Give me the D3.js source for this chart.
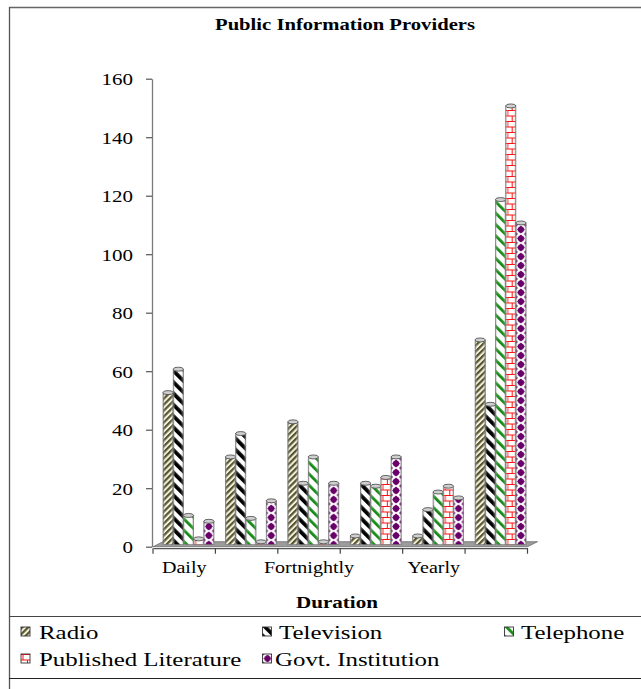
<!DOCTYPE html>
<html><head><meta charset="utf-8">
<script src="https://cdn.jsdelivr.net/npm/d3@7"></script>
<style>
body{margin:0;background:#fff}
svg{display:block}
text{font-family:"Liberation Serif","Times New Roman",Times,serif !important;fill:#000}
</style>
</head><body>
<svg id="c" width="641" height="689"></svg>
<script>
// ---- data ----
const categories = ["Daily","Weekly","Fortnightly","Monthly","Yearly","Occasionally"];
const shownCategoryLabels = ["Daily","Fortnightly","Yearly"];
const seriesNames = ["Radio","Television","Telephone","Published Literature","Govt. Institution"];
const radio = [52,30,42,3,3,70];
const television = [60,38,21,21,12,48];
const telephone = [10,9,30,20,18,118];
const publishedLiterature = [2,1,1,23,20,150];
const govtInstitution = [8,15,21,30,16,110];
const yTicks = [0,20,40,60,80,100,120,140,160];
const chartTitle = "Public Information Providers";
const xTitle = "Duration";

const seriesValues = [radio, television, telephone, publishedLiterature, govtInstitution];
const patternIds = ["pRadio","pTv","pTel","pPub","pGov"];
const serif = "'Liberation Serif','Times New Roman',Times,serif";

const svg = d3.select("#c");
const defs = svg.append("defs");

// ---- patterns ----
function stripes(id, bg, fg, period, fgW, angle){
  const p = defs.append("pattern").attr("id",id).attr("patternUnits","userSpaceOnUse")
    .attr("width",period).attr("height",period).attr("patternTransform",`rotate(${angle})`);
  p.append("rect").attr("width",period).attr("height",period).attr("fill",bg);
  p.append("rect").attr("width",fgW).attr("height",period).attr("fill",fg);
}
stripes("pRadio","#f2f1e4","#57542a",4.2,2.2,45);
stripes("pTv","#ffffff","#000000",8,3.8,-45);
stripes("pTel","#ffffff","#168a16",8,2.8,-45);
{
  const p = defs.append("pattern").attr("id","pPub").attr("patternUnits","userSpaceOnUse")
    .attr("width",9).attr("height",11);
  p.append("rect").attr("width",9).attr("height",11).attr("fill","#fff");
  p.append("path").attr("d","M0,0.5H9M0,6H9M2,0.5V6M6.5,6V11.5")
    .attr("stroke","#ff1010").attr("stroke-width",1).attr("fill","none");
}
{
  const p = defs.append("pattern").attr("id","pGov").attr("patternUnits","userSpaceOnUse")
    .attr("width",10).attr("height",9);
  p.append("rect").attr("width",10).attr("height",9).attr("fill","#fff");
  const dia = (cx,cy,r)=>`M${cx},${cy-r}L${cx+r},${cy}L${cx},${cy+r}L${cx-r},${cy}Z`;
  p.append("circle").attr("cx",5).attr("cy",4.5).attr("r",3.1).attr("fill","#690069");
  p.append("path").attr("d",[dia(5,4.5,4),dia(0,0,2),dia(10,0,2),dia(0,9,2),dia(10,9,2)].join(""))
    .attr("fill","#690069");
}
const g = defs.append("linearGradient").attr("id","cyl").attr("x1",0).attr("x2",1).attr("y1",0).attr("y2",0);
[[0,"#555",0.6],[0.22,"#fff",0],[0.75,"#fff",0],[1,"#555",0.6]].forEach(s=>
  g.append("stop").attr("offset",s[0]).attr("stop-color",s[1]).attr("stop-opacity",s[2]));

// ---- frame ----
svg.append("line").attr("x1",9).attr("x2",641).attr("y1",7.5).attr("y2",7.5).attr("stroke","#666").attr("stroke-width",1.3);
svg.append("line").attr("x1",9.5).attr("x2",9.5).attr("y1",7).attr("y2",689).attr("stroke","#555").attr("stroke-width",1.3);
svg.append("line").attr("x1",9).attr("x2",641).attr("y1",616.5).attr("y2",616.5).attr("stroke","#444").attr("stroke-width",1.2);
svg.append("line").attr("x1",9).attr("x2",641).attr("y1",678.5).attr("y2",678.5).attr("stroke","#222").attr("stroke-width",1.2);

// ---- scales ----
const y = d3.scaleLinear().domain([0,160]).range([546.7,78.7]);
const x0 = d3.scaleBand().domain(categories).range([153,527.5]).paddingInner(0).paddingOuter(0);
const x1 = d3.scaleBand().domain(seriesNames).range([10,61]).padding(0);
const lift = 2;

function stretchText(sel, sx){
  sel.each(function(){
    const t = d3.select(this);
    const x = +t.attr("x")||0, yy = +t.attr("y")||0;
    t.attr("transform",`translate(${x},${yy}) scale(${sx},1)`).attr("x",0).attr("y",0);
  });
}
function fitText(sel, target){
  sel.each(function(){
    const w = this.getComputedTextLength();
    stretchText(d3.select(this), target/w);
  });
}

// ---- title ----
svg.append("text").attr("x",345).attr("y",30).attr("text-anchor","middle").style("font-family",serif)
  .attr("font-weight","bold").attr("font-size",16).text(chartTitle).call(fitText,260);

// ---- y axis ----
const yAxisG = svg.append("g").attr("transform","translate(152,0)")
  .call(d3.axisLeft(y).tickValues(yTicks).tickSize(6).tickSizeOuter(0))
  .attr("font-family",serif);
yAxisG.select(".domain").attr("stroke","#7a7a7a").attr("stroke-width",1.3);
yAxisG.selectAll(".tick line").attr("stroke","#555").attr("stroke-width",1.2);
yAxisG.selectAll(".tick text").style("font-family",serif).attr("font-size",17.5)
  .attr("fill","#111").attr("dy","0.34em").attr("x",-19/1.2)
  .attr("transform","scale(1.2,1)");

// ---- floor ----
const fy = y(0);
const [fx0, fx1] = x0.range();
svg.append("path")
  .attr("d",`M${fx0},${fy}L${fx1},${fy}L${fx1+10},${fy-5}L${fx0+10},${fy-5}Z`)
  .attr("fill","#9c9c9c").attr("stroke","#6e6e6e").attr("stroke-width",0.8);

// ---- x axis ----
const xAxisG = svg.append("g").attr("transform",`translate(0,${fy+1.5})`)
  .call(d3.axisBottom(x0).tickSize(0).tickSizeOuter(0)
    .tickFormat(d => shownCategoryLabels.includes(d) ? d : ""))
  .attr("font-family",serif);
xAxisG.select(".domain").attr("stroke","#555").attr("stroke-width",1.2);
xAxisG.selectAll(".tick text").style("font-family",serif).attr("font-size",17)
  .attr("fill","#111").attr("dy",0).attr("y",25).attr("transform","scale(1.18,1)");
const bounds = categories.map(c=>x0(c)).concat([x0.range()[1]]);
xAxisG.selectAll(".bnd").data(bounds).join("line").attr("class","bnd")
  .attr("x1",d=>d).attr("x2",d=>d).attr("y1",0).attr("y2",5.5)
  .attr("stroke","#444").attr("stroke-width",1.2);

svg.append("text").attr("x",337).attr("y",608).attr("text-anchor","middle").style("font-family",serif)
  .attr("font-weight","bold").attr("font-size",17).text(xTitle).call(fitText,82);

// ---- bars ----
const barsG = svg.append("g");
categories.forEach((cat, ci) => {
  seriesNames.forEach((s, si) => {
    const v = seriesValues[si][ci];
    const bx = x0(cat) + x1(s);
    const bw = x1.bandwidth();
    const top = y(v) - lift, bottom = y(0) - lift;
    const bg = barsG.append("g").attr("transform",`translate(${bx},0)`);
    bg.append("rect").attr("x",0).attr("y",top).attr("width",bw).attr("height",Math.max(0,bottom-top))
      .attr("fill",`url(#${patternIds[si]})`);
    bg.append("rect").attr("x",0).attr("y",top).attr("width",bw).attr("height",Math.max(0,bottom-top))
      .attr("fill","url(#cyl)").attr("stroke","#7a7a7a").attr("stroke-width",0.7);
    bg.append("ellipse").attr("cx",bw/2).attr("cy",top).attr("rx",bw/2).attr("ry",2)
      .attr("fill","#cfcfcf").attr("stroke","#444").attr("stroke-width",0.8);
  });
});

// ---- legend ----
const legendPos = [
  {sx:21, tx:39, y:639},{sx:262.5, tx:279, y:639},{sx:504.5, tx:521, y:639},
  {sx:21, tx:39, y:666},{sx:262.5, tx:275, y:666}
];
seriesNames.forEach((s, si) => {
  const p = legendPos[si];
  const lg = svg.append("g").attr("transform",`translate(${p.sx},${p.y-12})`);
  lg.append("rect").attr("width",9).attr("height",9).attr("fill",`url(#${patternIds[si]})`)
    .attr("stroke","#333").attr("stroke-width",0.9);
  svg.append("text").attr("x",p.tx).attr("y",p.y).style("font-family",serif)
    .attr("font-size",19).text(s).call(stretchText,1.31);
});
</script>
</body></html>
